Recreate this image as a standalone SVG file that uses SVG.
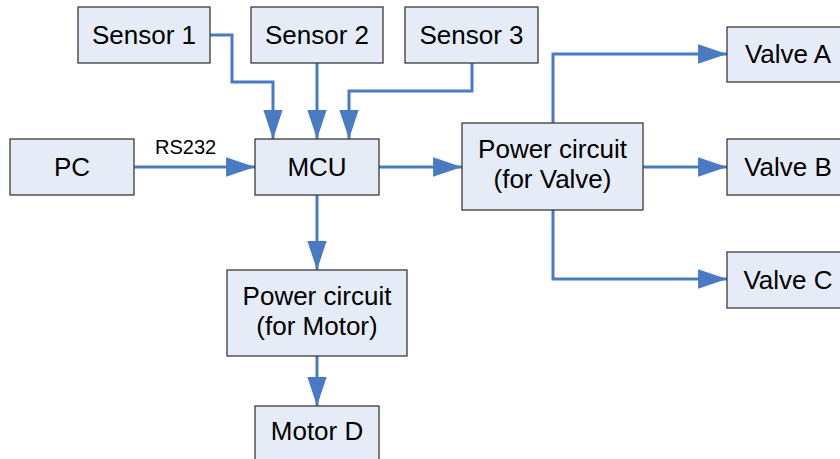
<svg xmlns="http://www.w3.org/2000/svg" width="840" height="459" viewBox="0 0 840 459">
<style>
.box{fill:#E6ECF7;stroke:#3a3a3a;stroke-width:1.3}
.t{font-family:"Liberation Sans",Arial,sans-serif;font-size:26px;fill:#000;text-anchor:middle}
.lbl{font-family:"Liberation Sans",Arial,sans-serif;font-size:20px;fill:#000}
.c{fill:none;stroke:#4A7BC2;stroke-width:3;marker-end:url(#ah)}
</style>
<defs>
<marker id="ah" markerUnits="userSpaceOnUse" markerWidth="30" markerHeight="20" refX="27" refY="9" orient="auto" viewBox="0 0 28 18">
<path d="M0,0 L27,9 L0,18 Z" fill="#4A7BC2"/>
</marker>
</defs>
<rect width="840" height="459" fill="#fff"/>
<g id="connectors">
<path class="c" d="M210,35 H232 V82 H273 V139"/>
<path class="c" d="M317,63 V139"/>
<path class="c" d="M472,63 V91 H349 V139"/>
<path class="c" d="M134,167 H255"/>
<path class="c" d="M379,167 H462"/>
<path class="c" d="M317,195 V270"/>
<path class="c" d="M317,356 V406"/>
<path class="c" d="M553,123 V54 H727"/>
<path class="c" d="M643,167 H727"/>
<path class="c" d="M553,210 V279 H727"/>
<text class="lbl" x="155" y="154">RS232</text>
</g>
<g id="sensor1"><rect class="box" x="78" y="7" width="132" height="56"/><text class="t" x="144" y="44">Sensor 1</text></g>
<g id="sensor2"><rect class="box" x="251" y="7" width="132" height="56"/><text class="t" x="317" y="44">Sensor 2</text></g>
<g id="sensor3"><rect class="box" x="405" y="7" width="133" height="56"/><text class="t" x="471.5" y="44">Sensor 3</text></g>
<g id="pc"><rect class="box" x="10" y="139" width="124" height="56"/><text class="t" x="72" y="176">PC</text></g>
<g id="mcu"><rect class="box" x="255" y="139" width="124" height="56"/><text class="t" x="317" y="176">MCU</text></g>
<g id="pcv"><rect class="box" x="462" y="123" width="181" height="87"/><text class="t" x="552.5" y="158">Power circuit</text><text class="t" x="552.5" y="188">(for Valve)</text></g>
<g id="valveA"><rect class="box" x="727" y="27" width="124" height="55"/><text class="t" x="788" y="63">Valve A</text></g>
<g id="valveB"><rect class="box" x="727" y="139" width="124" height="56"/><text class="t" x="788" y="176">Valve B</text></g>
<g id="valveC"><rect class="box" x="727" y="252" width="124" height="56"/><text class="t" x="788" y="289">Valve C</text></g>
<g id="pcm"><rect class="box" x="227" y="270" width="180" height="86"/><text class="t" x="317" y="305">Power circuit</text><text class="t" x="317" y="335">(for Motor)</text></g>
<g id="motorD"><rect class="box" x="255" y="406" width="124" height="56"/><text class="t" x="317" y="440">Motor D</text></g>
</svg>
